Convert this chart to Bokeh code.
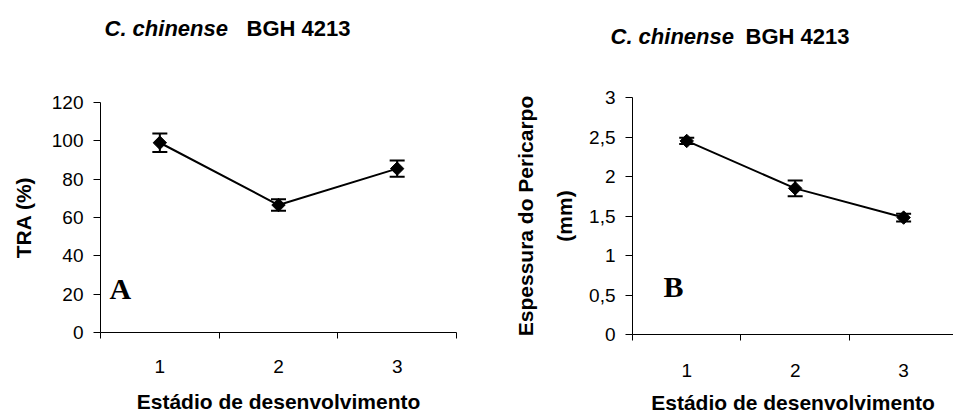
import math
from bokeh.plotting import figure
from bokeh.layouts import row, column
from bokeh.models import (Range1d, FixedTicker, Whisker, ColumnDataSource, Label,
                          TeeHead)
from bokeh.embed import file_html
from bokeh.resources import INLINE

# ---------------- data ----------------
stages = [1, 2, 3]
stage_labels = ["1", "2", "3"]

tra_mean = [99.0, 66.5, 85.5]
tra_err = [4.8, 3.0, 4.2]
tra_ticks = [0, 20, 40, 60, 80, 100, 120]
tra_tick_labels = ["0", "20", "40", "60", "80", "100", "120"]

peri_mean = [2.45, 1.85, 1.48]
peri_err = [0.04, 0.10, 0.05]
peri_ticks = [0, 0.5, 1, 1.5, 2, 2.5, 3]
peri_tick_labels = ["0", "0,5", "1", "1,5", "2", "2,5", "3"]

title_species = "C. chinense"
title_access = "BGH 4213"
x_title = "Estádio de desenvolvimento"
y_title_a = "TRA (%)"
y_title_b = "Espessura do Pericarpo\n(mm)"
panel_tags = ["A", "B"]

SANS = "Liberation Sans"
SERIF = "Liberation Serif"
TOTAL_H = 416
TITLE_H = 60


def px2d(px, p0, p1, d0, d1):
    return d0 + (px - p0) * (d1 - d0) / (p1 - p0)


def make_title(width, title_pos):
    t = figure(width=width, height=TITLE_H, output_backend="svg", toolbar_location=None,
               x_range=Range1d(0, width), y_range=Range1d(TITLE_H, 0),
               x_axis_location=None, y_axis_location=None, title=None,
               min_border=0, frame_align=False)
    t.outline_line_color = None
    t.xgrid.visible = False
    t.ygrid.visible = False
    t.background_fill_color = "white"
    t.border_fill_color = "white"
    sx1, sx2, sby = title_pos
    t.add_layout(Label(x=sx1, y=sby, text=title_species,
                       text_font=SANS, text_font_style="bold italic", text_font_size="22px",
                       text_color="black", text_baseline="alphabetic", text_align="left"))
    t.add_layout(Label(x=sx2, y=sby, text=title_access,
                       text_font=SANS, text_font_style="bold", text_font_size="22px",
                       text_color="black", text_baseline="alphabetic", text_align="left"))
    return t


def make_panel(width, frame, xr, yr, means, errs, yticks, ylabels, ytitle,
               tag_pos, tag, ylabel_standoff, xlabel_standoff, xtitle_standoff,
               y_line_height=1.2):
    left, right, top, bottom = frame
    h = TOTAL_H - TITLE_H
    top -= TITLE_H
    bottom -= TITLE_H
    p = figure(width=width, height=h, output_backend="svg", toolbar_location=None,
               x_range=Range1d(*xr), y_range=Range1d(*yr), frame_align=False,
               min_border_left=left, min_border_right=width - right,
               min_border_top=top, min_border_bottom=h - bottom)
    p.outline_line_color = None
    p.xgrid.visible = False
    p.ygrid.visible = False
    p.background_fill_color = "white"
    p.border_fill_color = "white"

    # x axis: labels at category centres, tick marks at category boundaries
    bounds = [s - 0.5 for s in stages] + [stages[-1] + 0.5]
    xa = p.xaxis[0]
    xa.ticker = FixedTicker(ticks=stages, minor_ticks=bounds)
    xa.major_label_overrides = {s: l for s, l in zip(stages, stage_labels)}
    xa.major_tick_line_color = None
    xa.major_tick_out = 0
    xa.major_tick_in = 0
    xa.minor_tick_out = 6
    xa.minor_tick_in = 0
    xa.minor_tick_line_color = "black"
    xa.axis_line_color = "black"
    xa.major_label_standoff = xlabel_standoff
    xa.major_label_text_font = SANS
    xa.major_label_text_font_size = "19px"
    xa.major_label_text_color = "black"
    xa.axis_label = x_title
    xa.axis_label_text_font = SANS
    xa.axis_label_text_font_style = "bold"
    xa.axis_label_text_font_size = "21px"
    xa.axis_label_text_color = "black"
    xa.axis_label_standoff = xtitle_standoff

    ya = p.yaxis[0]
    ya.ticker = FixedTicker(ticks=yticks)
    ya.major_label_overrides = {t: l for t, l in zip(yticks, ylabels)}
    ya.major_tick_out = 7
    ya.major_tick_in = 0
    ya.minor_tick_line_color = None
    ya.major_tick_line_color = "black"
    ya.axis_line_color = "black"
    ya.major_label_standoff = 10
    ya.major_label_text_font = SANS
    ya.major_label_text_font_size = "19px"
    ya.major_label_text_color = "black"
    ya.axis_label = ytitle
    ya.axis_label_text_font = SANS
    ya.axis_label_text_font_style = "bold"
    ya.axis_label_text_font_size = "21px"
    ya.axis_label_text_color = "black"
    ya.axis_label_standoff = ylabel_standoff
    ya.axis_label_text_line_height = y_line_height

    src = ColumnDataSource(dict(
        x=stages, y=means,
        upper=[m + e for m, e in zip(means, errs)],
        lower=[m - e for m, e in zip(means, errs)]))
    p.add_layout(Whisker(source=src, base="x", upper="upper", lower="lower",
                         line_color="black", line_width=2,
                         upper_head=TeeHead(size=15, line_width=2, line_color="black"),
                         lower_head=TeeHead(size=15, line_width=2, line_color="black")))
    p.line("x", "y", source=src, line_color="black", line_width=2)
    p.scatter("x", "y", source=src, marker="square", angle=math.pi / 4, size=9.5,
              fill_color="black", line_color="black")

    tx, tyy = tag_pos
    p.add_layout(Label(x=px2d(tx, left, right, xr[0], xr[1]),
                       y=px2d(tyy - TITLE_H, bottom, top, yr[0], yr[1]), text=tag,
                       text_font=SERIF, text_font_style="bold", text_font_size="30px",
                       text_color="black", text_baseline="alphabetic", text_align="left"))
    return p


tA = make_title(476, (104, 246, 28))
tB = make_title(477, (134, 269, 36))
pA = make_panel(476, (100, 456, 102, 332), (0.5, 3.5), (0, 120), tra_mean, tra_err,
                tra_ticks, tra_tick_labels, y_title_a,
                (109, 288), panel_tags[0], 14, 21, 14)
pB = make_panel(477, (156, 477, 97, 337), (0.5, 3.46), (0, 3), peri_mean, peri_err,
                peri_ticks, peri_tick_labels, y_title_b,
                (187, 288), panel_tags[1], 10, 23, 11, 1.7)

layout = row(column(tA, pA), column(tB, pB))
open("out.html", "w").write(file_html(layout, INLINE))
